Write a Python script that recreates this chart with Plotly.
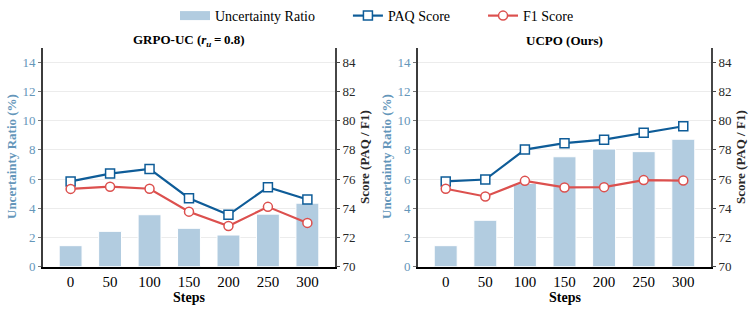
import plotly.graph_objects as go
from plotly.subplots import make_subplots

steps = ["0", "50", "100", "150", "200", "250", "300"]

# GRPO-UC (r_u = 0.8)
grpo_ratio = [1.44, 2.42, 3.56, 2.63, 2.17, 3.6, 4.35]
grpo_paq = [75.84, 76.38, 76.7, 74.69, 73.55, 75.45, 74.6]
grpo_f1 = [75.33, 75.48, 75.34, 73.77, 72.79, 74.1, 73.0]

# UCPO (Ours)
ucpo_ratio = [1.44, 3.18, 5.7, 7.53, 8.06, 7.88, 8.73]
ucpo_paq = [75.84, 75.97, 78.02, 78.46, 78.7, 79.18, 79.62]
ucpo_f1 = [75.34, 74.81, 75.88, 75.43, 75.45, 75.93, 75.9]

panel_titles = ["<b>GRPO-UC (<i>r</i><sub><i>u</i></sub>\u2009=\u20090.8)</b>", "<b>UCPO (Ours)</b>"]
legend_names = ["Uncertainty Ratio", "PAQ Score", "F1 Score"]

BAR = "rgb(178,204,224)"
PAQ = "rgb(14,92,152)"
F1 = "rgb(220,80,78)"
LBLUE = "rgb(100,150,186)"
FONT = "Liberation Serif, Times New Roman, DejaVu Serif, serif"
PAD = "\u00a0" * 8

W, H = 754, 318
REF_W, REF_H = 754, 310
fig = make_subplots(rows=1, cols=2, specs=[[{"secondary_y": True}, {"secondary_y": True}]])

# legend-only entry for bars (wide swatch)
fig.add_trace(go.Scatter(x=[None], y=[None], mode="lines", name=legend_names[0] + PAD,
                         line=dict(color=BAR, width=9)), row=1, col=1)

panels = [(grpo_ratio, grpo_paq, grpo_f1), (ucpo_ratio, ucpo_paq, ucpo_f1)]
for i, (ratio, paq, f1) in enumerate(panels):
    col = i + 1
    fig.add_trace(go.Bar(x=steps, y=ratio, width=0.58, marker=dict(color=BAR, line=dict(color="white", width=1)),
                         name=legend_names[0], showlegend=False), row=1, col=col, secondary_y=False)
    fig.add_trace(go.Scatter(x=steps, y=paq, mode="lines+markers", name=legend_names[1] + PAD,
                             showlegend=(i == 0), line=dict(color=PAQ, width=2.2),
                             marker=dict(symbol="square", size=9, color="white", line=dict(color=PAQ, width=1.5))),
                  row=1, col=col, secondary_y=True)
    fig.add_trace(go.Scatter(x=steps, y=f1, mode="lines+markers", name=legend_names[2],
                             showlegend=(i == 0), line=dict(color=F1, width=2.2),
                             marker=dict(symbol="circle", size=9, color="white", line=dict(color=F1, width=1.5))),
                  row=1, col=col, secondary_y=True)

px = lambda v: v / REF_W
py = lambda v: 1 - v / REF_H
xdoms = [[px(43), px(335)], [px(418), px(711)]]
ydom = [py(266.7), py(47.7)]

fig.update_layout(
    width=W, height=H, margin=dict(l=0, r=0, t=0, b=0),
    plot_bgcolor="white", paper_bgcolor="white",
    font=dict(family=FONT, size=14, color="black"),
    legend=dict(orientation="h", x=px(377), xanchor="center", y=py(16), yanchor="middle",
                font=dict(family=FONT, size=14), bgcolor="rgba(0,0,0,0)", traceorder="normal"),
)

for i in range(2):
    xa = "xaxis" if i == 0 else "xaxis2"
    ya = "yaxis" if i == 0 else "yaxis3"
    ya2 = "yaxis2" if i == 0 else "yaxis4"
    fig.layout[xa].update(domain=xdoms[i], type="category", range=[-0.7, 6.7], showgrid=False,
                          showline=True, linecolor="black", linewidth=1.6, ticks="", zeroline=False,
                          tickfont=dict(family=FONT, size=15, color="black"))
    fig.layout[ya].update(domain=ydom, range=[0, 15], tickvals=list(range(0, 15, 2)), showgrid=True,
                          gridcolor="rgb(236,236,236)", gridwidth=1, showline=True, linecolor="rgb(60,60,60)",
                          linewidth=2, ticks="outside", ticklen=3, tickcolor="rgb(120,120,120)",
                          tickfont=dict(family=FONT, size=13, color=LBLUE), zeroline=False)
    fig.layout[ya2].update(domain=ydom, range=[70, 85], tickvals=list(range(70, 85, 2)), showgrid=False,
                           showline=True, linecolor="rgb(70,70,70)", linewidth=2, ticks="outside", ticklen=3,
                           tickcolor="rgb(70,70,70)", tickfont=dict(family=FONT, size=13, color="rgb(40,40,40)"),
                           zeroline=False)

    cx = (xdoms[i][0] + xdoms[i][1]) / 2
    fig.add_annotation(text=panel_titles[i], x=cx, y=py(40), xref="paper", yref="paper",
                       showarrow=False, font=dict(family=FONT, size=13, color="black"),
                       xanchor="center", yanchor="middle")
    fig.add_annotation(text="<b>Steps</b>", x=cx, y=py(297.5), xref="paper", yref="paper",
                       showarrow=False, font=dict(family=FONT, size=14, color="black"),
                       xanchor="center", yanchor="middle")
    lx = 11 if i == 0 else 386
    rx = 364 if i == 0 else 740
    fig.add_annotation(text="<b>Uncertainty Ratio (%)</b>", x=px(lx), y=py(157), xref="paper", yref="paper",
                       showarrow=False, textangle=-90, font=dict(family=FONT, size=13, color=LBLUE),
                       xanchor="center", yanchor="middle")
    fig.add_annotation(text="<b>Score (PAQ / F1)</b>", x=px(rx), y=py(157), xref="paper", yref="paper",
                       showarrow=False, textangle=-90, font=dict(family=FONT, size=13, color="rgb(40,40,40)"),
                       xanchor="center", yanchor="middle")

fig.write_html("out.html", config={"displayModeBar": False},
               post_script="document.body.style.margin='0';document.body.style.overflow='hidden';")
